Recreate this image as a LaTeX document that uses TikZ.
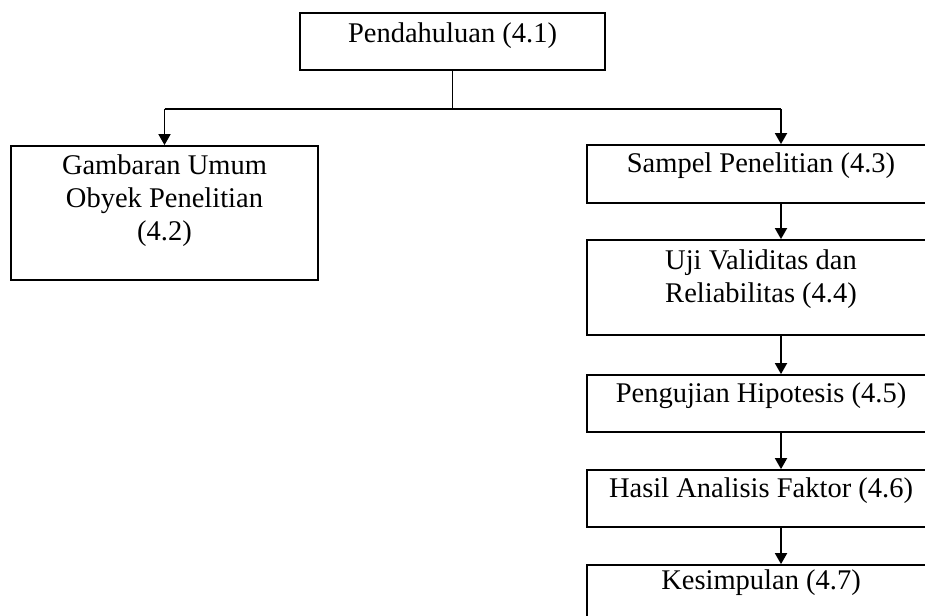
\documentclass[tikz,border=0pt]{standalone}
\usepackage{fontspec}
\setmainfont{Liberation Serif}
\usetikzlibrary{arrows.meta}

% height of the first line of each label: a strut of 0.7 baselineskip
\newlength{\firstlineht}
\setlength{\firstlineht}{23.1pt}

\tikzset{
  box/.style={draw, line width=1.8pt, rectangle, inner sep=0pt},
  lbl/.style={anchor=north, align=center, inner sep=0pt,
    font=\fontsize{28.5}{33}\selectfont},
  conn/.style={line width=1.8pt},
  arr/.style={conn, -{Triangle[length=11pt,width=12pt]}},
}

\begin{document}
\begin{tikzpicture}[x=1pt, y=-1pt]
  \useasboundingbox (0,0) rectangle (925,615);
  \clip (0,0) rectangle (925,615);

  % boxes
  \node[box, minimum width=305pt, minimum height=57pt]  (b41) at (452.5,41.5) {};
  \node[box, minimum width=307pt, minimum height=134pt] (b42) at (164.5,213) {};
  \node[box, minimum width=348pt, minimum height=58pt]  (b43) at (761,174) {};
  \node[box, minimum width=348pt, minimum height=95pt]  (b44) at (761,287.5) {};
  \node[box, minimum width=348pt, minimum height=57pt]  (b45) at (761,403.5) {};
  \node[box, minimum width=348pt, minimum height=57pt]  (b46) at (761,498.5) {};
  \node[box, minimum width=348pt, minimum height=75pt]  (b47) at (761,602.5) {};

  % labels: first baseline a fixed distance below each box top
  \node[lbl] (t41) at ([yshift=\firstlineht-30pt]b41.north) {\strut Pendahuluan (4.1)};
  \node[lbl] (t42) at ([yshift=\firstlineht-29pt]b42.north) {\strut Gambaran Umum\\Obyek Penelitian\\(4.2)};
  \node[lbl] (t43) at ([yshift=\firstlineht-28pt]b43.north) {\strut Sampel Penelitian (4.3)};
  \node[lbl] (t44) at ([yshift=\firstlineht-30pt]b44.north) {\strut Uji Validitas dan\\Reliabilitas (4.4)};
  \node[lbl] (t45) at ([yshift=\firstlineht-28pt]b45.north) {\strut Pengujian Hipotesis (4.5)};
  \node[lbl] (t46) at ([yshift=\firstlineht-28pt]b46.north) {\strut Hasil Analisis Faktor (4.6)};
  \node[lbl] (t47) at ([yshift=\firstlineht-25pt]b47.north) {\strut Kesimpulan (4.7)};

  % branching connector
  \coordinate (colR) at (781,0);
  \coordinate (j)  at ([yshift=-38pt]b41.south);
  \coordinate (jl) at (b42.north |- j);
  \coordinate (jr) at (colR |- j);
  \draw[conn] (b41.south) -- (j);
  \draw[conn] (jl) -- (jr);
  \draw[arr] (jl) -- (b42.north);
  \draw[arr] (jr) -- (colR |- b43.north);

  % chain on the right
  \draw[arr] (colR |- b43.south) -- (colR |- b44.north);
  \draw[arr] (colR |- b44.south) -- (colR |- b45.north);
  \draw[arr] (colR |- b45.south) -- (colR |- b46.north);
  \draw[arr] (colR |- b46.south) -- (colR |- b47.north);
\end{tikzpicture}
\end{document}
